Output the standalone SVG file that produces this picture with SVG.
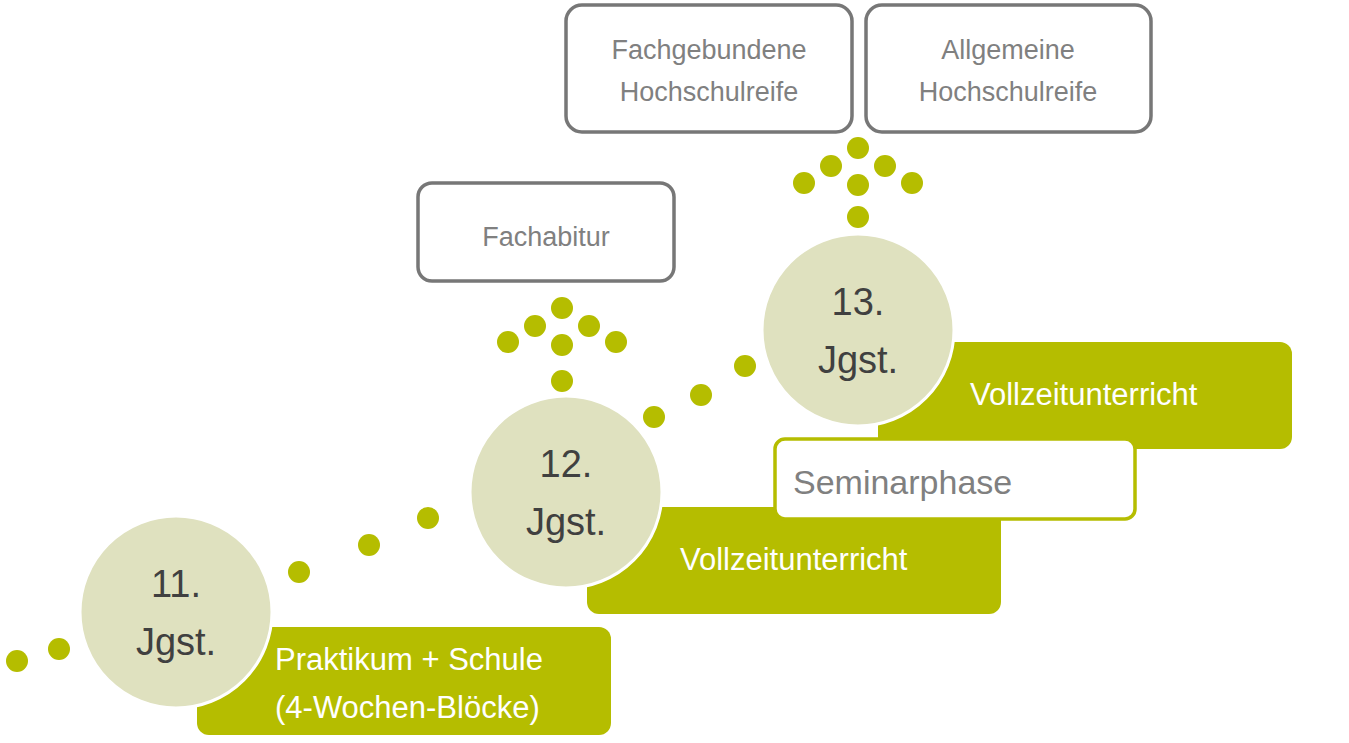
<svg xmlns="http://www.w3.org/2000/svg" width="1349" height="743" viewBox="0 0 1349 743">
<style>
.g{fill:#b5bd00}
.c{fill:#dfe1bf;stroke:#fff;stroke-width:3}
.ct{font-family:"Liberation Sans",Arial,sans-serif;font-size:38px;fill:#404040;text-anchor:middle}
.bt{font-family:"Liberation Sans",Arial,sans-serif;font-size:31px;fill:#fff}
.gb{fill:#fff;stroke:#777;stroke-width:3.5}
.gt{font-family:"Liberation Sans",Arial,sans-serif;font-size:27px;fill:#808080;text-anchor:middle}
</style>
<rect width="1349" height="743" fill="#fff"/>
<g id="connectors" class="g">
<circle cx="17" cy="661" r="11"/><circle cx="59" cy="649" r="11"/>
<circle cx="299" cy="572" r="11"/><circle cx="369" cy="545" r="11"/><circle cx="428" cy="518" r="11"/>
<circle cx="654" cy="417" r="11"/><circle cx="701" cy="395" r="11"/><circle cx="745" cy="366" r="11"/>
<circle cx="562" cy="308" r="11"/><circle cx="535" cy="326" r="11"/><circle cx="589" cy="326" r="11"/><circle cx="508" cy="342" r="11"/><circle cx="562" cy="345" r="11"/><circle cx="616" cy="342" r="11"/><circle cx="562" cy="381" r="11"/>
<circle cx="858" cy="148" r="11"/><circle cx="831" cy="166" r="11"/><circle cx="885" cy="166" r="11"/><circle cx="804" cy="183" r="11"/><circle cx="858" cy="185" r="11"/><circle cx="912" cy="183" r="11"/><circle cx="858" cy="217" r="11"/>
</g>
<g id="box1"><rect class="g" x="197" y="627" width="414" height="108" rx="12"/><text class="bt" x="275" y="670">Praktikum + Schule</text><text class="bt" x="275" y="718">(4-Wochen-Blöcke)</text></g>
<g id="box2"><rect class="g" x="587" y="507" width="414" height="107" rx="12"/><text class="bt" x="680" y="570">Vollzeitunterricht</text></g>
<g id="box3"><rect class="g" x="878" y="342" width="414" height="107" rx="12"/><text class="bt" x="970" y="405">Vollzeitunterricht</text></g>
<g id="seminar"><rect x="775" y="439" width="360" height="80" rx="10" fill="#fff" stroke="#b5bd00" stroke-width="3.5"/><text x="793" y="494" font-family="Liberation Sans,Arial,sans-serif" font-size="34" fill="#808080">Seminarphase</text></g>
<g id="j11"><circle class="c" cx="176" cy="612" r="96"/><text class="ct" x="176" y="597">11.</text><text class="ct" x="176" y="655">Jgst.</text></g>
<g id="j12"><circle class="c" cx="566" cy="492" r="96"/><text class="ct" x="566" y="477">12.</text><text class="ct" x="566" y="535">Jgst.</text></g>
<g id="j13"><circle class="c" cx="858" cy="330" r="96"/><text class="ct" x="858" y="315">13.</text><text class="ct" x="858" y="373">Jgst.</text></g>
<g id="fachabitur"><rect class="gb" x="418" y="183" width="256" height="98" rx="14"/><text class="gt" x="546" y="246" font-size="35">Fachabitur</text></g>
<g id="fachgeb"><rect class="gb" x="566" y="5" width="286" height="127" rx="16"/><text class="gt" x="709" y="59">Fachgebundene</text><text class="gt" x="709" y="101">Hochschulreife</text></g>
<g id="allg"><rect class="gb" x="866" y="5" width="285" height="127" rx="16"/><text class="gt" x="1008" y="59">Allgemeine</text><text class="gt" x="1008" y="101">Hochschulreife</text></g>
</svg>
